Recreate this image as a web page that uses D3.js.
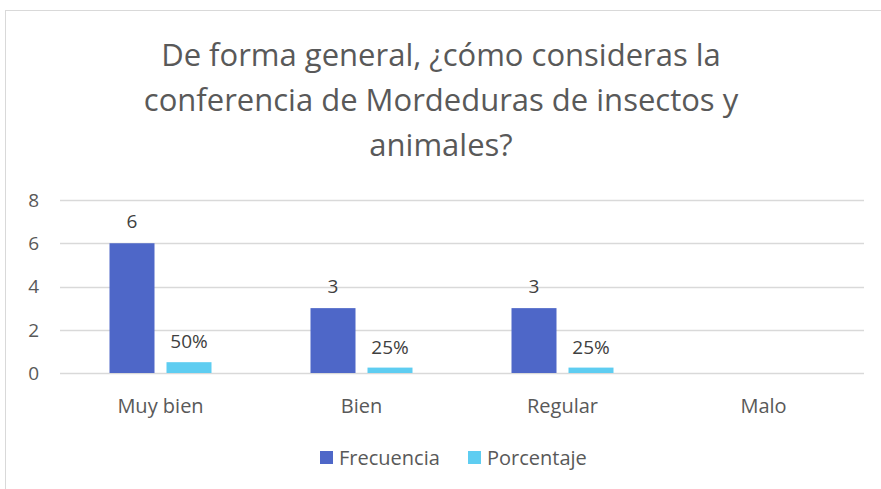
<!DOCTYPE html>
<html>
<head>
<meta charset="utf-8">
<script src="https://cdn.jsdelivr.net/npm/d3@7"></script>
<style>
  body { margin: 0; background: #fff; }
  svg { display: block; font-family: "Open Sans", "Noto Sans", sans-serif; }
</style>
</head>
<body>
<svg></svg>
<script>
const width = 881;
const height = 489;

// datos
const categories = ["Muy bien", "Bien", "Regular", "Malo"];
const frecuencia = [6, 3, 3, null];
const porcentaje = [0.5, 0.25, 0.25, null];
const porcentajeLabels = ["50%", "25%", "25%", ""];
const seriesNames = ["Frecuencia", "Porcentaje"];
const seriesColors = ["#4e67c8", "#5ecdf1"];
const yTicks = [0, 2, 4, 6, 8];
const titleLines = [
    "De forma general, ¿cómo consideras la",
    "conferencia de Mordeduras de insectos y",
    "animales?"
];

const textColor = "#595959";

const svg = d3.select("svg")
    .attr("width", width)
    .attr("height", height);

// marco del gráfico
svg.append("rect")
    .attr("x", 5.5)
    .attr("y", 10.5)
    .attr("width", 900)
    .attr("height", 500)
    .attr("fill", "#fff")
    .attr("stroke", "#d9d9d9");

// titulo
svg.append("g")
    .selectAll("text")
    .data(titleLines)
    .enter().append("text")
    .attr("x", 441)
    .attr("y", (d, i) => 66 + i * 45)
    .attr("text-anchor", "middle")
    .attr("fill", textColor)
    .attr("font-size", 31)
    .text(d => d);

const x = d3.scaleBand()
    .domain(categories)
    .range([60, 864]);

const y = d3.scaleLinear()
    .domain([0, 8])
    .range([373, 200]);

// lineas de cuadricula
svg.append("g")
    .selectAll("line")
    .data(yTicks)
    .enter().append("line")
    .attr("x1", 60)
    .attr("x2", 864)
    .attr("y1", d => Math.round(y(d)) + 0.5)
    .attr("y2", d => Math.round(y(d)) + 0.5)
    .attr("stroke", "#d9d9d9")
    .attr("stroke-width", 1.5);

// etiquetas eje y
svg.append("g")
    .selectAll("text")
    .data(yTicks)
    .enter().append("text")
    .attr("x", 39)
    .attr("y", d => y(d))
    .attr("dy", "0.36em")
    .attr("text-anchor", "end")
    .attr("fill", textColor)
    .attr("font-size", 19)
    .text(d => d);

// etiquetas eje x
svg.append("g")
    .selectAll("text")
    .data(categories)
    .enter().append("text")
    .attr("x", d => x(d) + x.bandwidth() / 2)
    .attr("y", 413)
    .attr("text-anchor", "middle")
    .attr("fill", textColor)
    .attr("font-size", 20)
    .text(d => d);

const barW = 45;
const gap = 12;
const cx = d => x(d) + x.bandwidth() / 2;

const rows = categories.map((c, i) => ({ c, f: frecuencia[i], p: porcentaje[i], pl: porcentajeLabels[i] }));

// barras frecuencia
svg.append("g")
    .selectAll("rect")
    .data(rows.filter(r => r.f != null))
    .enter().append("rect")
    .attr("x", r => cx(r.c) - gap / 2 - barW)
    .attr("y", r => y(r.f))
    .attr("width", barW)
    .attr("height", r => y(0) - y(r.f))
    .attr("fill", seriesColors[0]);

// barras porcentaje
svg.append("g")
    .selectAll("rect")
    .data(rows.filter(r => r.p != null))
    .enter().append("rect")
    .attr("x", r => cx(r.c) + gap / 2)
    .attr("y", r => y(r.p))
    .attr("width", barW)
    .attr("height", r => y(0) - y(r.p))
    .attr("fill", seriesColors[1]);

// etiquetas de datos
svg.append("g")
    .selectAll("text")
    .data(rows.filter(r => r.f != null))
    .enter().append("text")
    .attr("x", r => cx(r.c) - gap / 2 - barW / 2)
    .attr("y", r => y(r.f) - 15)
    .attr("text-anchor", "middle")
    .attr("fill", "#404040")
    .attr("font-size", 19)
    .text(r => r.f);

svg.append("g")
    .selectAll("text")
    .data(rows.filter(r => r.p != null))
    .enter().append("text")
    .attr("x", r => cx(r.c) + gap / 2 + barW / 2)
    .attr("y", r => y(r.p) - 14)
    .attr("text-anchor", "middle")
    .attr("fill", "#404040")
    .attr("font-size", 19)
    .text(r => r.pl);

// leyenda
const legend = svg.append("g");
const legendX = [320, 468];
seriesNames.forEach((name, i) => {
    legend.append("rect")
        .attr("x", legendX[i])
        .attr("y", 451)
        .attr("width", 13)
        .attr("height", 13)
        .attr("fill", seriesColors[i]);
    legend.append("text")
        .attr("x", legendX[i] + 19)
        .attr("y", 465)
        .attr("fill", textColor)
        .attr("font-size", 20)
        .text(name);
});
</script>
</body>
</html>
